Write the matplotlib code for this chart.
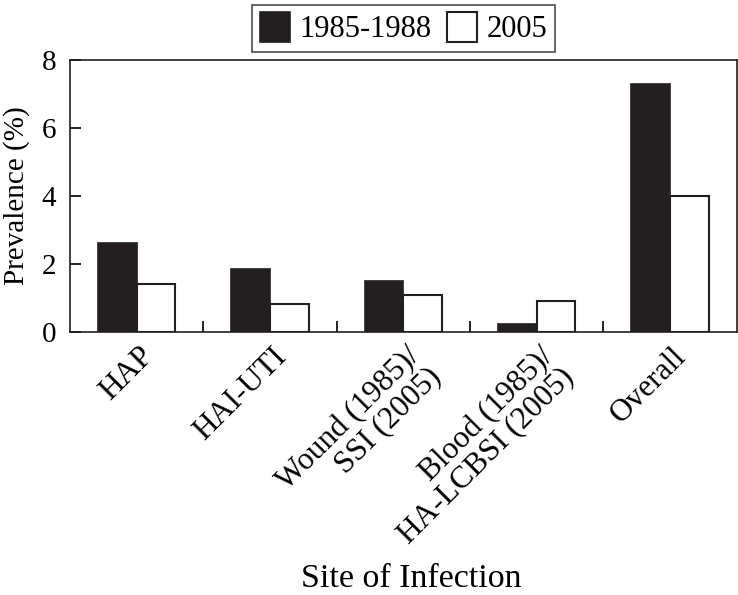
import matplotlib
matplotlib.use("Agg")
import matplotlib.pyplot as plt
import matplotlib.transforms as mtransforms
import numpy as np

categories = ["HAP", "HAI-UTI", "Wound (1985)/\nSSI (2005)",
              "Blood (1985)/\nHA-LCBSI (2005)", "Overall"]
series_names = ["1985-1988", "2005"]
vals_1985 = [2.62, 1.85, 1.51, 0.24, 7.31]
vals_2005 = [1.40, 0.81, 1.10, 0.90, 3.99]
yticks = [0, 2, 4, 6, 8]

plt.rcParams['font.family'] = ['Liberation Serif', 'DejaVu Serif']
plt.rcParams['font.size'] = 22

fig = plt.figure(figsize=(7.38, 5.95), dpi=100)
ax = fig.add_axes([0.095, 0.442, 0.903, 0.457])

x = np.arange(len(categories))
w = 0.29
ax.bar(x - w/2, vals_1985, w, color='#231f20', edgecolor='#231f20', linewidth=1.2,
       label=series_names[0])
ax.bar(x + w/2, vals_2005, w, color='white', edgecolor='#231f20', linewidth=1.5,
       label=series_names[1])

ax.set_xlim(-0.5, len(categories) - 0.5)
ax.set_ylim(0, 8)
ax.set_yticks(yticks)
ax.tick_params(axis='y', direction='in', length=8, width=1.2, pad=10, labelsize=21)
ax.set_xticks(x)
ax.set_xticklabels(categories, rotation=45, ha='right', va='top',
                   rotation_mode='anchor', fontsize=22.5, linespacing=1.0)
ax.tick_params(axis='x', which='major', length=0, pad=7)
ax.set_xticks(x[:-1] + 0.5, minor=True)
ax.tick_params(axis='x', which='minor', direction='in', length=8, width=1.2)
offset = mtransforms.ScaledTranslation(2/100, 0, fig.dpi_scale_trans)
for lab in ax.get_xticklabels():
    lab.set_transform(lab.get_transform() + offset)

for s in ax.spines.values():
    s.set_linewidth(1.2)
    s.set_color('#231f20')

ax.set_ylabel("Prevalence (%)", fontsize=21, labelpad=8)
fig.text(0.557, 0.028, "Site of Infection", ha='center', va='center', fontsize=24.5)

leg = ax.legend(loc='lower center', bbox_to_anchor=(0.5, 1.03), ncol=2,
                frameon=True, fancybox=False, edgecolor='#231f20',
                handlelength=1.0, handleheight=1.1, handletextpad=0.3,
                columnspacing=0.5, borderpad=0.25, borderaxespad=0, fontsize=22)
leg.get_frame().set_linewidth(1.2)

fig.savefig("out.png", dpi=100)
